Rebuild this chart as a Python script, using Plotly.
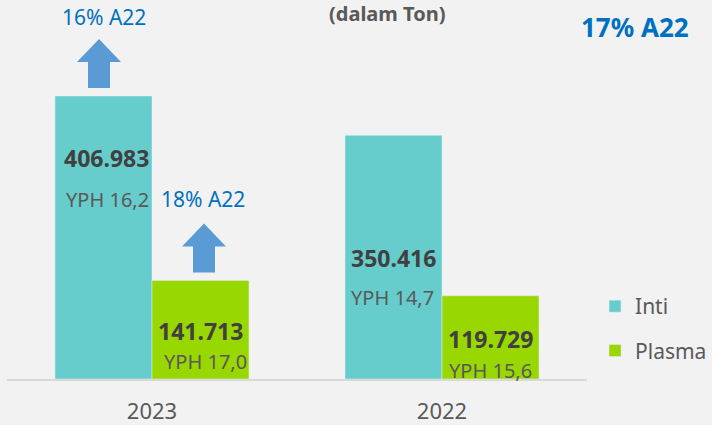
import plotly.graph_objects as go

# ---- data ----
years = ["2023", "2022"]
inti = [406983, 350416]
plasma = [141713, 119729]
inti_yph = ["YPH 16,2", "YPH 14,7"]
plasma_yph = ["YPH 17,0", "YPH 15,6"]
inti_growth = ["16% A22", None]
plasma_growth = ["18% A22", None]
total_growth = "17% A22"
unit_label = "(dalam Ton)"

# ---- style ----
FONT = "Noto Sans"
C_INTI = "#66CCCC"
C_PLASMA = "#99D700"
C_ARROW = "#5B9BD5"
C_BLUE = "#0070C0"
C_DARK = "#404040"
C_GREY = "#595959"
BG = "#F2F2F2"
BARGAP = 0.331
HALF = (1 - BARGAP) / 4  # offset of each bar centre from category centre

def fmt(v):
    return f"{v:,}".replace(",", ".")

fig = go.Figure()
fig.add_trace(go.Bar(name="Inti", x=years, y=inti, marker_color=C_INTI,
                     legendgroup="a", hoverinfo="skip"))
fig.add_trace(go.Bar(name="Plasma", x=years, y=plasma, marker_color=C_PLASMA,
                     legendgroup="b", hoverinfo="skip"))

# label offsets (pixels): value label dx, dy below top; yph dx, dy below top
inti_off = [(2.5, 62, 4, 103), (0, 123, -1.5, 162)]
plasma_off = [(0, 51, 4.5, 81.5), (0, 43, 0, 75)]

annotations = []
shapes = []
arrow_dx = {"inti": -4.5, "plasma": 3.5}
text_dx = {"inti": 0, "plasma": 2.5}
text_up = {"inti": 79, "plasma": 81}

for series, vals, yphs, offs, sign, growth in [
    ("inti", inti, inti_yph, inti_off, -1, inti_growth),
    ("plasma", plasma, plasma_yph, plasma_off, 1, plasma_growth),
]:
    for i, (v, yph, off) in enumerate(zip(vals, yphs, offs)):
        xc = i + sign * HALF
        annotations.append(dict(x=xc, y=v, xref="x", yref="y", text=f"<b>{fmt(v)}</b>",
                                showarrow=False, xanchor="center", yanchor="middle",
                                xshift=off[0], yshift=-off[1],
                                font=dict(family=FONT, size=23, color=C_DARK)))
        annotations.append(dict(x=xc, y=v, xref="x", yref="y", text=yph,
                                showarrow=False, xanchor="center", yanchor="middle",
                                xshift=off[2], yshift=-off[3],
                                font=dict(family=FONT, size=20, color=C_GREY)))
        if growth[i]:
            d = arrow_dx[series]
            pts = [(-11, 8), (11, 8), (11, 34), (22, 34), (0, 57), (-22, 34), (-11, 34)]
            path = "M" + " L".join(f"{px + d},{py}" for px, py in pts) + " Z"
            shapes.append(dict(type="path", xref="x", yref="y",
                               xsizemode="pixel", ysizemode="pixel",
                               xanchor=xc, yanchor=v, path=path,
                               fillcolor=C_ARROW, line=dict(width=0)))
            annotations.append(dict(x=xc, y=v, xref="x", yref="y", text=growth[i],
                                    showarrow=False, xanchor="center", yanchor="middle",
                                    xshift=text_dx[series], yshift=text_up[series],
                                    font=dict(family=FONT, size=21, color=C_BLUE)))

annotations.append(dict(x=0, y=1, xref="paper", yref="paper", text=f"<b>{unit_label}</b>",
                        showarrow=False, xanchor="center", yanchor="middle",
                        xshift=379.5, yshift=7,
                        font=dict(family=FONT, size=20, color=C_GREY)))
annotations.append(dict(x=0, y=1, xref="paper", yref="paper", text=f"<b>{total_growth}</b>",
                        showarrow=False, xanchor="center", yanchor="middle",
                        xshift=628, yshift=-7,
                        font=dict(family=FONT, size=26, color=C_BLUE)))

fig.update_layout(
    width=712, height=425,
    margin=dict(l=7, r=125, t=20, b=46, pad=0, autoexpand=False),
    paper_bgcolor=BG, plot_bgcolor=BG,
    barmode="group", bargap=BARGAP, bargroupgap=0,
    showlegend=True,
    legend=dict(xref="container", yref="container", x=0.8357, y=0.327,
                xanchor="left", yanchor="top",
                traceorder="grouped", tracegroupgap=14,
                font=dict(family=FONT, size=21, color=C_GREY),
                bgcolor="rgba(0,0,0,0)"),
    xaxis=dict(type="category", showline=True, linecolor="#D9D9D9", linewidth=2,
               ticks="", showgrid=False, zeroline=False, ticklabelstandoff=12,
               automargin=False,
               tickfont=dict(family=FONT, size=22, color=C_GREY)),
    yaxis=dict(visible=False, range=[0, 516300], showgrid=False, zeroline=False,
               automargin=False),
    annotations=annotations,
    shapes=shapes,
)

fig.write_html("out.html", config={"displayModeBar": False},
               post_script="document.body.style.margin='0';document.body.style.background='#F2F2F2';")
